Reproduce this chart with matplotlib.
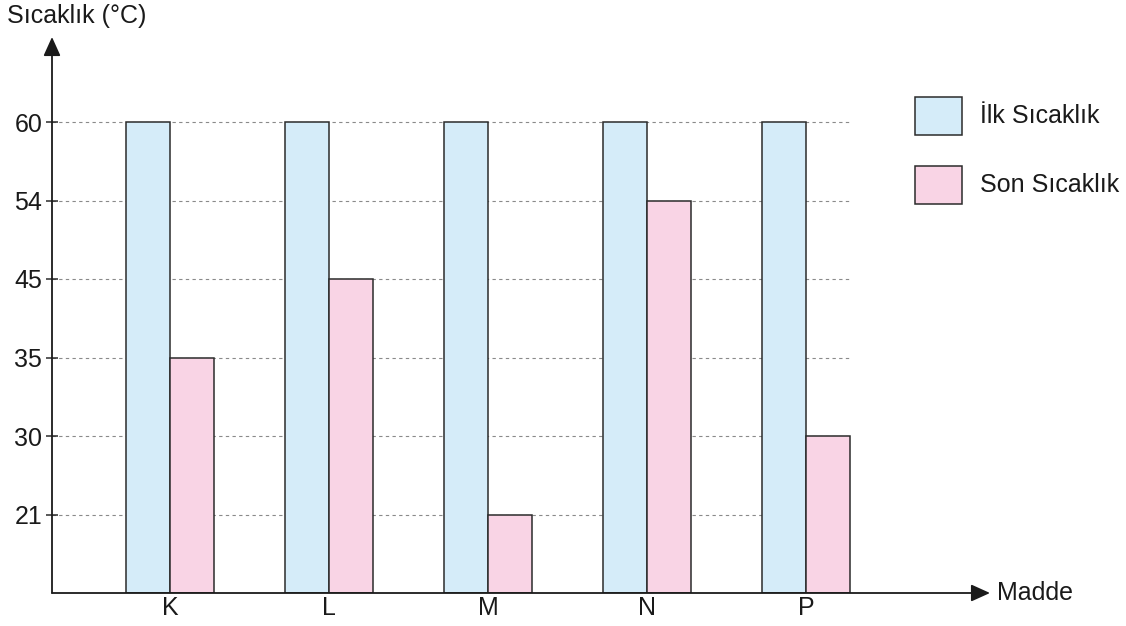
import numpy as np
import matplotlib
matplotlib.use('Agg')
import matplotlib.pyplot as plt
from matplotlib.patches import Rectangle

plt.rcParams['font.family'] = ['Liberation Sans', 'DejaVu Sans']

maddeler = ['K', 'L', 'M', 'N', 'P']
ilk_sicaklik = [60, 60, 60, 60, 60]
son_sicaklik = [35, 45, 21, 54, 30]
y_ticks = [21, 30, 35, 45, 54, 60]

# the temperature axis places each labelled value one step apart
scale_vals = np.array([0, 21, 30, 35, 45, 54, 60, 70, 80])
scale_pos = np.arange(len(scale_vals), dtype=float)


def forward(v):
    return np.interp(v, scale_vals, scale_pos)


def inverse(p):
    return np.interp(p, scale_pos, scale_vals)


W, H = 1126, 626
fig = plt.figure(figsize=(W / 100, H / 100), dpi=100)

# axes box in pixels: left, bottom, right, top
x0, y0, x1, y1 = 52, 593, 990, 37
ax = fig.add_axes([x0 / W, (H - y0) / H, (x1 - x0) / W, (y0 - y1) / H])

ax.set_yscale('function', functions=(forward, inverse))

x = np.arange(len(maddeler))
w = 44 / 159
edge = '#2b2b2b'
ax.bar(x - w / 2, ilk_sicaklik, width=w, color='#d5ecf9', edgecolor=edge,
       linewidth=1.1, zorder=3)
ax.bar(x + w / 2, son_sicaklik, width=w, color='#f9d4e5', edgecolor=edge,
       linewidth=1.1, zorder=3)

xmin = (x0 - 170) / 159
xmax = (x1 - 170) / 159
ax.set_xlim(xmin, xmax)
ax.set_ylim(0, inverse((y0 - y1) / 78.5))

ax.hlines(y_ticks, xmin, x[-1] + w, colors='#8a8a8a', linewidth=0.8,
          linestyles=(0, (3, 3)), zorder=1)

fs = 18
ax.set_yticks(y_ticks)
ax.set_yticklabels([str(t) for t in y_ticks])
ax.yaxis.set_minor_locator(matplotlib.ticker.NullLocator())
ax.set_xticks(x)
ax.set_xticklabels(maddeler)
ax.tick_params(axis='y', length=8, width=1.1, color=edge, labelsize=fs,
               direction='inout', pad=3, labelcolor='#1a1a1a')
ax.tick_params(axis='x', length=0, labelsize=fs, pad=2, labelcolor='#1a1a1a')

for s in ['top', 'right', 'left', 'bottom']:
    ax.spines[s].set_visible(False)

# axis lines with arrow heads
arrow = dict(arrowstyle='-|>,head_length=1.15,head_width=0.52', color='#1a1a1a',
             lw=1.3, shrinkA=0, shrinkB=0)
ax.annotate('', xy=(0, 1), xytext=(0, 0), xycoords='axes fraction',
            arrowprops=arrow, zorder=5)
ax.annotate('', xy=(1, 0), xytext=(0, 0), xycoords='axes fraction',
            arrowprops=arrow, zorder=5)

fig.text(7 / W, 1 - 16 / H, 'Sıcaklık (°C)', fontsize=fs, va='center',
         ha='left', color='#1a1a1a')
fig.text(997 / W, 1 - 593 / H, 'Madde', fontsize=fs, va='center',
         ha='left', color='#1a1a1a')

# legend
for (ytop, col, lab) in [(97, '#d5ecf9', 'İlk Sıcaklık'),
                         (166, '#f9d4e5', 'Son Sıcaklık')]:
    fig.patches.append(Rectangle((915 / W, 1 - (ytop + 38) / H), 47 / W,
                                 38 / H, transform=fig.transFigure,
                                 facecolor=col, edgecolor=edge, linewidth=1.1))
    fig.text(980 / W, 1 - (ytop + 19) / H, lab, fontsize=fs, va='center',
             ha='left', color='#1a1a1a')

fig.savefig('out.png', dpi=100)
